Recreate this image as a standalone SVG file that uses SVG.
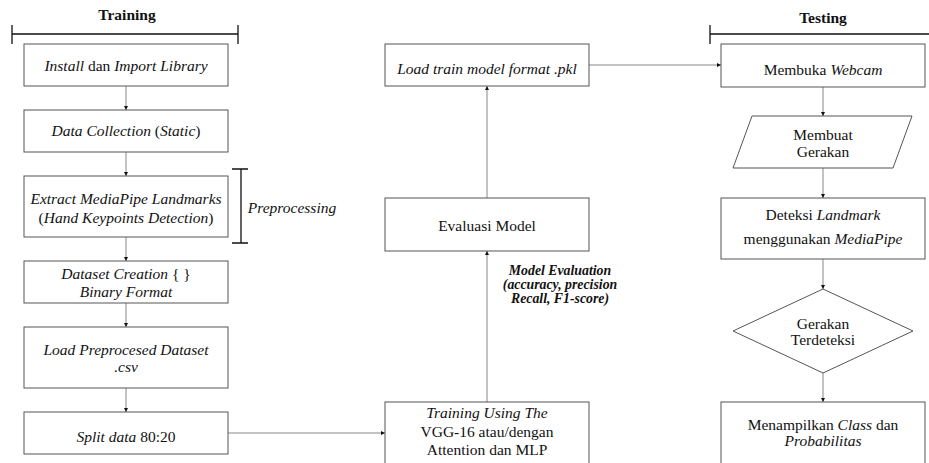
<svg xmlns="http://www.w3.org/2000/svg" width="929" height="463" viewBox="0 0 929 463">
<style>
text{font-family:"Liberation Serif","Times New Roman",serif;font-size:15.5px;fill:#111;text-anchor:middle}
.i{font-style:italic}
.h{font-weight:bold;font-size:15.5px}
.lb{font-style:italic;font-weight:bold;font-size:13.8px}
.box{fill:#fff;stroke:#555;stroke-width:1}
.c{fill:none;stroke:#888;stroke-width:1;marker-end:url(#a)}
.br{fill:none;stroke:#111;stroke-width:1.3}
</style>
<defs>
<marker id="a" viewBox="0 0 6 6" refX="6" refY="3" markerWidth="4" markerHeight="4" orient="auto" markerUnits="userSpaceOnUse"><path d="M0,0L6,3L0,6z" fill="#111"/></marker>
</defs>
<rect width="929" height="463" fill="#fff"/>
<g id="headers">
<text class="h" x="127" y="20">Training</text>
<path class="br" d="M12,34H238M12,25V44M238,25V44"/>
<text class="h" x="823" y="23">Testing</text>
<path class="br" d="M710,34H929M710,25V44"/>
<path class="br" d="M241,169V243M232,169H248M232,243H248"/>
<text class="i" x="292" y="213">Preprocessing</text>
</g>
<g id="connectors">
<path class="c" d="M126,86V110"/>
<path class="c" d="M126,152V176"/>
<path class="c" d="M126,237V261"/>
<path class="c" d="M126,303V327"/>
<path class="c" d="M126,388V412"/>
<path class="c" d="M228,433H385"/>
<path class="c" d="M487,402V251"/>
<path class="c" d="M487,198V86"/>
<path class="c" d="M589,65H721"/>
<path class="c" d="M823,87V116"/>
<path class="c" d="M823,168V198"/>
<path class="c" d="M823,259V289"/>
<path class="c" d="M823,373V402"/>
</g>
<g id="n1"><rect class="box" x="24" y="44" width="204" height="42"/><text x="126" y="71"><tspan class="i">Install</tspan> dan <tspan class="i">Import Library</tspan></text></g>
<g id="n2"><rect class="box" x="24" y="110" width="204" height="42"/><text x="126" y="136"><tspan class="i">Data Collection</tspan> (<tspan class="i">Static</tspan>)</text></g>
<g id="n3"><rect class="box" x="24" y="176" width="204" height="61"/><text class="i" x="126" y="204">Extract MediaPipe Landmarks</text><text x="126" y="223">(<tspan class="i">Hand Keypoints Detection</tspan>)</text></g>
<g id="n4"><rect class="box" x="24" y="261" width="204" height="42"/><text x="126" y="279"><tspan class="i">Dataset Creation</tspan> { }</text><text class="i" x="126" y="297">Binary Format</text></g>
<g id="n5"><rect class="box" x="24" y="327" width="204" height="61"/><text class="i" x="126" y="355">Load Preprocesed Dataset</text><text class="i" x="126" y="372">.csv</text></g>
<g id="n6"><rect class="box" x="24" y="412" width="204" height="42"/><text x="126" y="442"><tspan class="i">Split data</tspan> 80:20</text></g>
<g id="n7"><rect class="box" x="385" y="44" width="204" height="42"/><text class="i" x="487" y="74">Load train model format .pkl</text></g>
<g id="n8"><rect class="box" x="385" y="198" width="204" height="53"/><text x="487" y="231">Evaluasi Model</text></g>
<g id="lbl"><text class="lb" x="560" y="275">Model Evaluation</text><text class="lb" x="560" y="289">(accuracy, precision</text><text class="lb" x="560" y="303">Recall, F1-score)</text></g>
<g id="n9"><rect class="box" x="385" y="402" width="204" height="70"/><text class="i" x="487" y="418">Training Using The</text><text x="487" y="437">VGG-16 atau/dengan</text><text x="487" y="455">Attention dan MLP</text></g>
<g id="n10"><rect class="box" x="721" y="44" width="204" height="43"/><text x="823" y="75">Membuka <tspan class="i">Webcam</tspan></text></g>
<g id="n11"><polygon class="box" points="752,116 912,116 893,168 733,168"/><text x="823" y="140">Membuat</text><text x="823" y="157">Gerakan</text></g>
<g id="n12"><rect class="box" x="721" y="198" width="204" height="61"/><text x="823" y="220">Deteksi <tspan class="i">Landmark</tspan></text><text x="823" y="244">menggunakan <tspan class="i">MediaPipe</tspan></text></g>
<g id="n13"><polygon class="box" points="823,289 913,331 823,373 733,331"/><text x="823" y="329">Gerakan</text><text x="823" y="345">Terdeteksi</text></g>
<g id="n14"><rect class="box" x="721" y="402" width="204" height="70"/><text x="823" y="430">Menampilkan <tspan class="i">Class</tspan> dan</text><text class="i" x="823" y="446">Probabilitas</text></g>
</svg>
